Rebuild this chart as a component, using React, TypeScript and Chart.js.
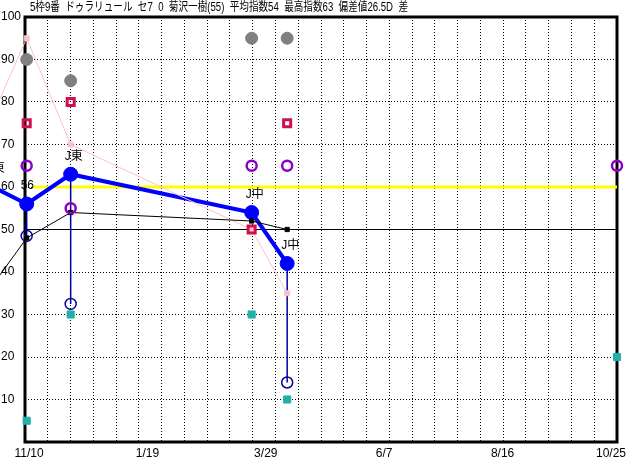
import React, { useEffect, useRef } from 'react';
import { Chart, registerables } from 'chart.js';

Chart.register(...registerables);

// ---- data ----
const titleText = '5枠9番  ドゥラリュール  セ7  0  菊沢一樹(55)  平均指数54  最高指数63  偏差値26.5D  差';
const raceDays = [-19, 1, 27, 134, 155, 350]; // days after 11/10
const raceLabels = ['J東', '56', 'J東', 'J中', 'J中', ''];
const indexValues = [60, 56, 63, 54, 42, null];
const lowValues = [null, 48.5, 32.5, null, 14, null];
const trendValues = [37, 48, 54, 52, 50, null];
const pinkValues = [77, 95, 70, 50, 35, null];
const greyValues = [null, 90, 85, 95, 95, null];
const redValues = [null, 75, 80, 50, 75, null];
const purpleValues = [null, 65, 55, 65, 65, 65];
const tealValues = [null, 5, 30, 30, 10, 20];
const yellowLevel = 60;
const yellowFrom = 5;
const baseLevel = 50;
const xMin = 0;
const xMax = 350;
const xTickDays = [0, 70, 140, 210, 280, 350];
const xTickLabels = ['11/10', '1/19', '3/29', '6/7', '8/16', '10/25      '];
const gridCount = 26;
const yTicks = [0, 10, 20, 30, 40, 50, 60, 70, 80, 90, 100];

const FONT = '"Liberation Sans", "Noto Sans CJK JP", sans-serif';

const pts = (vals: (number | null)[]) => raceDays.map((d, i) => ({ x: d, y: vals[i] }));

export default function App() {
  const ref = useRef<HTMLCanvasElement>(null);
  useEffect(() => {
    const canvas = ref.current!;
    const gridDays = Array.from({ length: gridCount + 1 }, (_, k) => xMin + (k * (xMax - xMin)) / gridCount);
    const tickObjs: { value: number; grid: boolean; lbl: string }[] = gridDays.map((v) => ({ value: v, grid: true, lbl: '' }));
    xTickDays.forEach((d, i) => {
      const ex = tickObjs.find((t) => Math.abs(t.value - d) < 1e-6);
      if (ex) ex.lbl = xTickLabels[i];
      else tickObjs.push({ value: d, grid: false, lbl: xTickLabels[i] });
    });
    tickObjs.sort((a, b) => a.value - b.value);

    const verticals = raceDays
      .map((d, i) => (lowValues[i] != null && indexValues[i] != null ? i : -1))
      .filter((i) => i >= 0)
      .map((i) => ({
        type: 'line' as const,
        data: [
          { x: raceDays[i], y: indexValues[i] },
          { x: raceDays[i], y: lowValues[i] },
        ],
        borderColor: '#0000a0',
        borderWidth: 1.5,
        pointRadius: 0,
        clip: false as any,
        order: 90,
      }));

    const datasets: any[] = [
      {
        label: 'teal',
        data: pts(tealValues),
        showLine: false,
        pointStyle: 'rect',
        pointRadius: 5,
        borderWidth: 1,
        borderColor: '#20b0a8',
        backgroundColor: '#20b0a8',
        clip: false,
        order: 1,
      },
      {
        label: 'grey',
        data: pts(greyValues),
        showLine: false,
        pointRadius: 6,
        borderWidth: 1,
        borderColor: '#808080',
        backgroundColor: '#808080',
        clip: false,
        order: 2,
      },
      {
        label: 'purple',
        data: pts(purpleValues),
        showLine: false,
        pointRadius: 5,
        borderWidth: 2.5,
        borderColor: '#8a00c8',
        backgroundColor: 'rgba(0,0,0,0)',
        clip: false,
        order: 3,
      },
      {
        label: 'trend',
        data: pts(trendValues),
        borderColor: '#000000',
        borderWidth: 1,
        pointStyle: 'rect',
        pointRadius: 3,
        pointBorderWidth: 1,
        backgroundColor: '#000000',
        tension: 0,
        clip: false,
        order: 4,
      },
      {
        label: 'red',
        data: pts(redValues),
        showLine: false,
        pointStyle: 'rect',
        pointRadius: 5,
        borderWidth: 3,
        borderColor: '#d0104c',
        backgroundColor: 'rgba(0,0,0,0)',
        clip: false,
        order: 5,
      },
      {
        label: 'pink',
        data: pts(pinkValues),
        borderColor: '#ffc0cb',
        borderWidth: 1,
        pointStyle: 'rect',
        pointRadius: 3.5,
        pointBorderWidth: 1,
        pointBorderColor: '#ffc0cb',
        backgroundColor: '#ffc0cb',
        tension: 0,
        clip: false,
        order: 6,
      },
      {
        label: 'low',
        data: pts(lowValues),
        showLine: false,
        pointRadius: 5.5,
        borderWidth: 1.5,
        borderColor: '#0000a0',
        backgroundColor: 'rgba(0,0,0,0)',
        clip: false,
        order: 7,
      },
      {
        label: 'index',
        data: pts(indexValues),
        borderColor: '#0000ff',
        borderWidth: 4,
        backgroundColor: '#0000ff',
        pointRadius: (c: any) => (raceDays[c.dataIndex] < xMin ? 0 : 7),
        pointBorderWidth: 1,
        tension: 0,
        clip: false,
        order: 8,
      },
      ...verticals,
      {
        label: 'yellow',
        data: [
          { x: yellowFrom, y: yellowLevel },
          { x: xMax, y: yellowLevel },
        ],
        borderColor: '#ffff00',
        borderWidth: 3,
        pointRadius: 0,
        clip: false,
        order: 100,
      },
      {
        label: 'base',
        data: [
          { x: xMin, y: baseLevel },
          { x: xMax, y: baseLevel },
        ],
        borderColor: '#000000',
        borderWidth: 1,
        pointRadius: 0,
        clip: false,
        order: 101,
      },
    ];

    const overlay = {
      id: 'overlay',
      beforeDatasetsDraw(chart: any) {
        const { ctx, chartArea: a } = chart;
        ctx.save();
        ctx.strokeStyle = '#000';
        ctx.lineWidth = 3;
        ctx.strokeRect(a.left, a.top, a.right - a.left, a.bottom - a.top);
        ctx.restore();
      },
      afterDatasetsDraw(chart: any) {
        const { ctx } = chart;
        const idx = chart.data.datasets.findIndex((d: any) => d.label === 'index');
        const meta = chart.getDatasetMeta(idx);
        ctx.save();
        ctx.fillStyle = '#000';
        ctx.font = '12px ' + FONT;
        ctx.textAlign = 'left';
        ctx.textBaseline = 'middle';
        raceLabels.forEach((t, i) => {
          const el = meta.data[i];
          if (!t || !el || !isFinite(el.x) || !isFinite(el.y)) return;
          ctx.fillText(t, el.x - 6, el.y - 18);
        });
        ctx.fillText(titleText, 30, 8, 378);
        ctx.restore();
      },
    };

    const chart = new Chart(canvas, {
      type: 'line',
      data: { datasets },
      options: {
        animation: false,
        responsive: false,
        devicePixelRatio: 1,
        events: [],
        layout: { padding: { top: 17, right: 15, left: 1, bottom: 0 } },
        plugins: { legend: { display: false }, tooltip: { enabled: false }, title: { display: false } },
        scales: {
          x: {
            type: 'linear',
            min: xMin,
            max: xMax,
            offset: false,
            afterBuildTicks: (s: any) => {
              s.ticks = tickObjs.map((t) => ({ ...t }));
            },
            afterFit: (s: any) => {
              s.height = 18;
              s.paddingLeft = 0;
              s.paddingRight = 0;
            },
            grid: {
              offset: false,
              drawTicks: false,
              color: (c: any) => (c.tick && c.tick.grid ? '#000000' : 'rgba(0,0,0,0)'),
              lineWidth: 1,
            },
            border: { display: false, dash: [1, 2] },
            ticks: {
              autoSkip: false,
              maxRotation: 0,
              minRotation: 0,
              padding: 4,
              labelOffset: 4,
              color: '#000',
              font: { family: FONT, size: 12 },
              callback: (_v: any, i: number) => tickObjs[i]?.lbl ?? '',
            },
          },
          y: {
            type: 'linear',
            min: 0,
            max: 100,
            afterBuildTicks: (s: any) => {
              s.ticks = yTicks.map((v) => ({ value: v }));
            },
            afterFit: (s: any) => {
              s.width = 24;
              s.paddingTop = 0;
              s.paddingBottom = 0;
            },
            grid: { drawTicks: false, color: '#000000', lineWidth: 1 },
            border: { display: false, dash: [1, 2] },
            ticks: {
              crossAlign: 'far',
              padding: 0,
              color: '#000',
              font: { family: FONT, size: 12 },
              callback: (v: any) => (v === 0 ? '' : String(v)),
            },
          },
        },
      } as any,
      plugins: [overlay],
    });
    return () => chart.destroy();
  }, []);

  return (
    <div style={{ position: 'absolute', left: 0, top: 0, width: 632, height: 460, background: '#fff' }}>
      <canvas ref={ref} width={632} height={460} style={{ display: 'block', width: 632, height: 460 }} />
    </div>
  );
}
